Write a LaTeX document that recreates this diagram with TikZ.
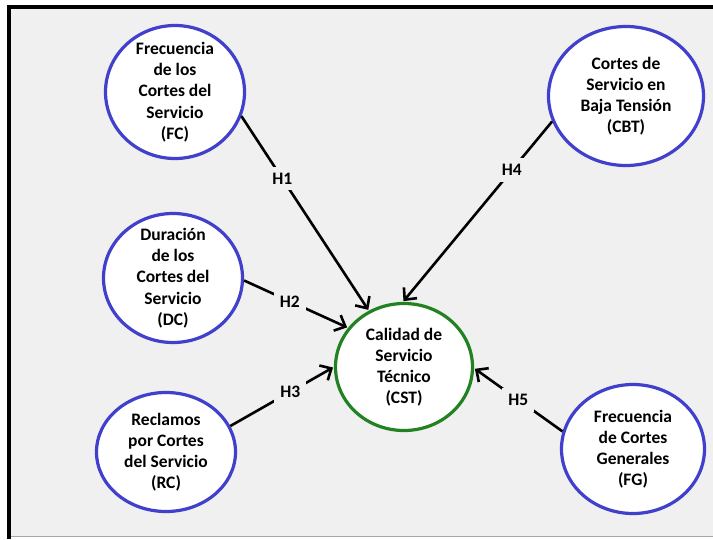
\documentclass[tikz,border=0pt]{standalone}
\usepackage{fontspec}
\setmainfont{Carlito}
\usetikzlibrary{shapes,arrows.meta}
\definecolor{panelgray}{RGB}{240,240,240}
\definecolor{varblue}{RGB}{64,64,204}
\definecolor{cstgreen}{RGB}{34,130,34}
\tikzstyle{construct} = [ellipse, draw=varblue, line width=3.2pt, fill=white, inner sep=-8pt, align=center, font=\bfseries\fontsize{17.5}{21.2}\selectfont]
\tikzstyle{central} = [construct, draw=cstgreen]
\tikzstyle{hyp} = [line width=2.6pt, shorten >=1pt, -{Straight Barb[length=9pt,width=17pt]}]
\tikzstyle{hlabel} = [fill=panelgray, inner sep=6pt, font=\bfseries\fontsize{17.5}{21.2}\selectfont]

\begin{document}
\begin{tikzpicture}[x=1pt,y=-1pt]
		\useasboundingbox (0,0) rectangle (713,539);
		\fill [white] (0,0) rectangle (713,539);
		\fill [panelgray] (9,7) rectangle (713,537);
		\draw [gray!70, line width=1pt] (9,536.5) -- (713,536.5);
		\draw [black, line width=4pt] (9,539) -- (9,7) -- (713,7);

		\node [central, minimum width=137pt, minimum height=127pt] (cst) at (404,367) {Calidad de\\Servicio\\Técnico\\(CST)};
		\node [construct, minimum width=139pt, minimum height=133pt] (fc) at (175,92) {Frecuencia\\de los\\Cortes del\\Servicio\\(FC)};
		\node [construct, minimum width=139pt, minimum height=129pt] (dc) at (173,278) {Duración\\de los\\Cortes del\\Servicio\\(DC)};
		\node [construct, minimum width=139pt, minimum height=119pt] (rc) at (166,452) {Reclamos\\por Cortes\\del Servicio\\(RC)};
		\node [construct, minimum width=155pt, minimum height=139pt] (cbt) at (626,96) {Cortes de\\Servicio en\\Baja Tensión\\(CBT)};
		\node [construct, minimum width=143pt, minimum height=129pt] (fg) at (633,449) {Frecuencia\\de Cortes\\Generales\\(FG)};

		\draw [hyp] (fc.-20) -- node[hlabel, pos=0.32, name=h1] {H1} (cst.122);
		\draw [hyp] (dc.-2) -- node[hlabel, pos=0.44, name=h2] {H2} (cst.145);
		\draw [hyp] (rc.22) -- node[hlabel, pos=0.58, name=h3] {H3} (cst.180);
		\draw [hyp] (cbt.-161) -- node[hlabel, pos=0.27, name=h4] {H4} (cst.91);
		\draw [hyp] (fg.166) -- node[hlabel, pos=0.5, name=h5] {H5} (cst.-1);

\end{tikzpicture}
\end{document}
